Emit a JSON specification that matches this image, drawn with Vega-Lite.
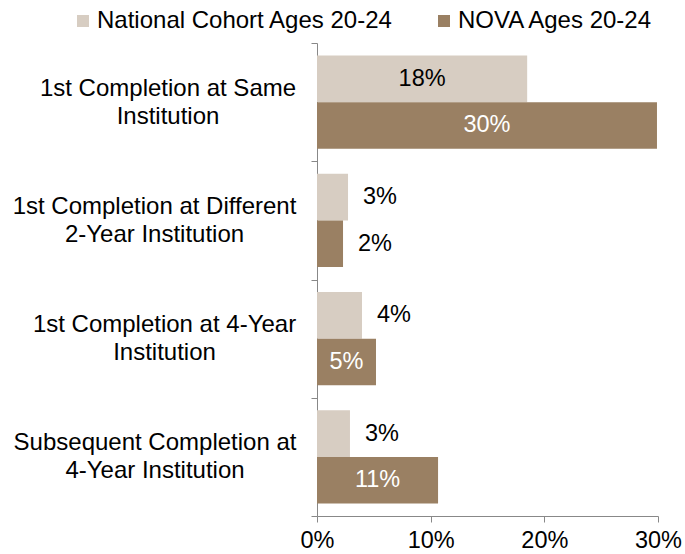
{
  "$schema": "https://vega.github.io/schema/vega-lite/v6.json",
  "width": 341,
  "height": 473,
  "autosize": {"type": "none"},
  "padding": {"left": 317, "top": 43, "right": 27, "bottom": 38},
  "config": {
    "view": {"stroke": null},
    "font": "Liberation Sans",
    "axis": {"domainColor": "#888888", "tickColor": "#888888", "labelColor": "#000000", "labelFont": "Liberation Sans", "grid": false, "title": null}
  },
  "data": {
    "values": [
      {"category": "1st Completion at Same|Institution", "series": "National Cohort Ages 20-24", "value": 0.1849},
      {"category": "1st Completion at Same|Institution", "series": "NOVA Ages 20-24", "value": 0.2991},
      {"category": "1st Completion at Different|2-Year Institution", "series": "National Cohort Ages 20-24", "value": 0.0273},
      {"category": "1st Completion at Different|2-Year Institution", "series": "NOVA Ages 20-24", "value": 0.0229},
      {"category": "1st Completion at 4-Year|Institution", "series": "National Cohort Ages 20-24", "value": 0.0396},
      {"category": "1st Completion at 4-Year|Institution", "series": "NOVA Ages 20-24", "value": 0.0519},
      {"category": "Subsequent Completion at|4-Year Institution", "series": "National Cohort Ages 20-24", "value": 0.029},
      {"category": "Subsequent Completion at|4-Year Institution", "series": "NOVA Ages 20-24", "value": 0.1065}
    ]
  },
  "encoding": {
    "y": {
      "field": "category",
      "type": "nominal",
      "sort": null,
      "scale": {"paddingInner": 0, "paddingOuter": 0},
      "axis": {
        "tickBand": "extent",
        "tickSize": 6,
        "labelFontSize": 24,
        "labelPadding": {
          "condition": [
            {"test": "datum.value === '1st Completion at Same|Institution'", "value": 143.5},
            {"test": "datum.value === '1st Completion at Different|2-Year Institution'", "value": 157},
            {"test": "datum.value === '1st Completion at 4-Year|Institution'", "value": 147}
          ],
          "value": 156.5
        },
        "labelLimit": 0,
        "labelLineHeight": 28,
        "labelOffset": -14,
        "labelExpr": "indexof(datum.label, '|') < 0 ? '' : split(datum.label, '|')",
        "labelAlign": "center",
        "labelBaseline": "middle"
      }
    },
    "yOffset": {
      "field": "series",
      "sort": null,
      "scale": {"paddingInner": 0, "paddingOuter": 0.27}
    }
  },
  "layer": [
    {
      "mark": {"type": "bar"},
      "encoding": {
        "x": {
          "field": "value",
          "type": "quantitative",
          "scale": {"domain": [0, 0.3], "nice": false},
          "axis": {"values": [0, 0.1, 0.2, 0.3], "format": ".0%", "tickSize": 6, "labelPadding": 6, "labelFontSize": 23.5, "labelFlush": false}
        },
        "color": {
          "field": "series",
          "type": "nominal",
          "sort": null,
          "scale": {"domain": ["National Cohort Ages 20-24", "NOVA Ages 20-24"], "range": ["#D7CDC2", "#9A8063"]},
          "legend": {
            "orient": "none",
            "legendX": -246,
            "legendY": -34,
            "direction": "horizontal",
            "title": null,
            "symbolType": "square",
            "symbolSize": 144,
            "symbolStrokeWidth": 0,
            "labelFontSize": 24,
            "labelOffset": 2,
            "labelLimit": 0,
            "columnPadding": 38,
            "labelFont": "Liberation Sans",
            "labelColor": "#000000"
          }
        }
      }
    },
    {
      "transform": [{"filter": "datum.value >= 0.05"}, {"calculate": "datum.value / 2", "as": "mid"}],
      "mark": {"type": "text", "fontSize": 23.5, "align": "center", "baseline": "middle"},
      "encoding": {
        "x": {"field": "mid", "type": "quantitative"},
        "text": {"field": "value", "type": "quantitative", "format": ".0%"},
        "color": {"condition": {"test": "datum.series === 'NOVA Ages 20-24'", "value": "#ffffff"}, "value": "#000000"}
      }
    },
    {
      "transform": [{"filter": "datum.value < 0.05"}],
      "mark": {"type": "text", "fontSize": 23.5, "align": "left", "baseline": "middle", "dx": 15, "color": "#000000"},
      "encoding": {
        "x": {"field": "value", "type": "quantitative"},
        "text": {"field": "value", "type": "quantitative", "format": ".0%"}
      }
    }
  ]
}
